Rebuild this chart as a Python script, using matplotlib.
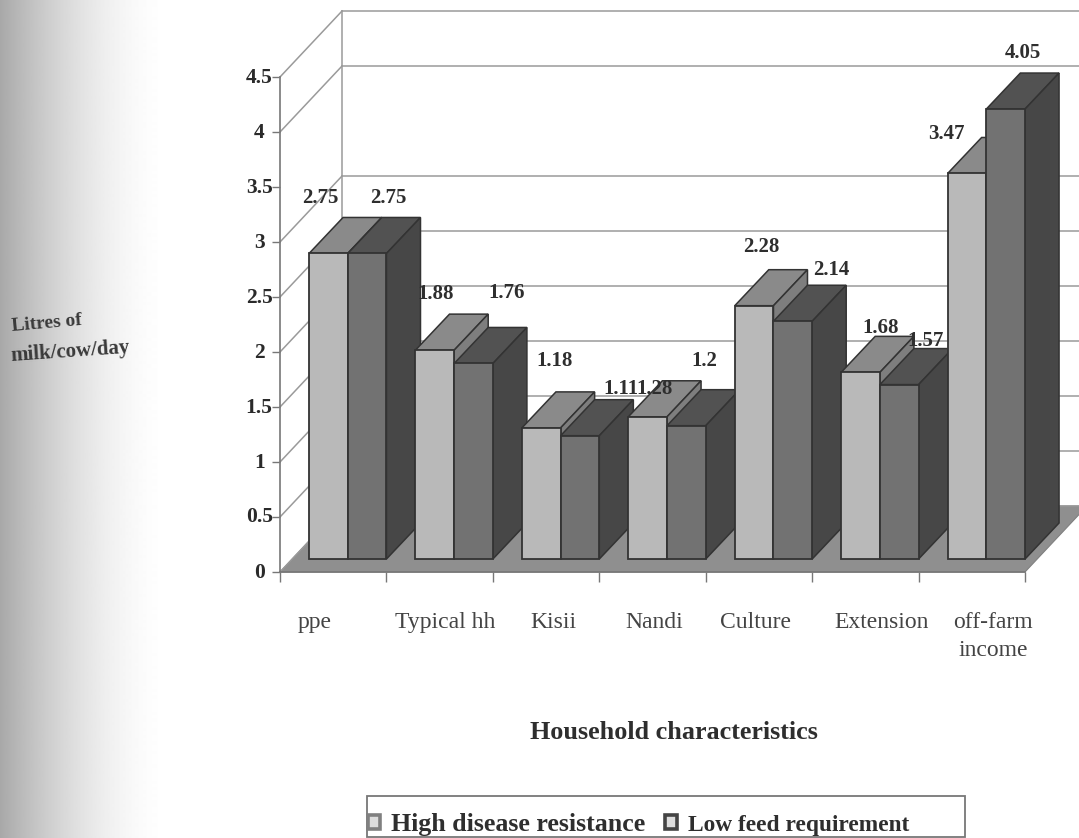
import numpy as np
import matplotlib
matplotlib.use("Agg")
import matplotlib.pyplot as plt
from matplotlib.patches import Polygon, Patch, Rectangle
from matplotlib.transforms import ScaledTranslation

categories = ["ppe", "Typical hh", "Kisii", "Nandi", "Culture", "Extension", "off-farm\nincome"]
high_disease_resistance = [2.75, 1.88, 1.18, 1.28, 2.28, 1.68, 3.47]
low_feed_requirement = [2.75, 1.76, 1.11, 1.2, 2.14, 1.57, 4.05]
y_ticks = [0, 0.5, 1, 1.5, 2, 2.5, 3, 3.5, 4, 4.5]
y_tick_labels = ["0", "0.5", "1", "1.5", "2", "2.5", "3", "3.5", "4", "4.5"]
# the 3.5 gridline does not show in the scanned reference
wall_levels = [0, 0.5, 1, 1.5, 2, 2.5, 3, 4, 4.5]

# label placement (pixels from the top-front centre of each bar)
off_s1 = [(-8, 55), (1, 56), (13, 67), (7, 28), (7, 59), (20, 44), (-21, 39)]
off_s2 = [(21, 55), (33, 70), (41, 47), (18, 65), (38, 51), (26, 44), (17, 56)]
cat_label_x = [0.329, 1.551, 2.566, 3.515, 4.464, 5.648, 6.701]

W, H = 1079, 838
SERIF = "Liberation Serif"
plt.rcParams["font.family"] = SERIF
fig = plt.figure(figsize=(W / 100, H / 100), dpi=100, facecolor="white")

# scanned-page shading at the left edge
bg = fig.add_axes([0, 0, 1, 1], zorder=-1)
xs = np.arange(W)
shade = 1 - 0.34 * np.clip(1 - xs / 170, 0, 1) ** 1.7
bg.imshow(np.tile(shade, (H, 1)), aspect="auto", cmap="gray", vmin=0, vmax=1)
bg.axis("off")

ax = fig.add_axes([280 / W, 1 - 572 / H, 745 / W, 495 / H], facecolor="none")
ax.set_xlim(0, 7)
ax.set_ylim(0, 4.5)

WALL_DX, WALL_DY = 62 / 106.4, 66 / 110
GRID = "#9a9a9a"
EDGE = "#333333"
ax.add_patch(Polygon([(0, 0), (WALL_DX, WALL_DY), (7 + WALL_DX, WALL_DY), (7, 0)],
                     closed=True, fc="#8f8f8f", ec="#808080", lw=0.8, clip_on=False, zorder=1))
for v in wall_levels:
    ax.plot([0, WALL_DX], [v, v + WALL_DY], color=GRID, lw=1.1, clip_on=False, zorder=2)
    ax.plot([WALL_DX, 7 + WALL_DX], [v + WALL_DY, v + WALL_DY], color=GRID, lw=1.1, clip_on=False, zorder=2)
ax.plot([WALL_DX, WALL_DX], [WALL_DY, 4.5 + WALL_DY], color=GRID, lw=1.1, clip_on=False, zorder=2)

BASE = 13 / 110
SCALE = 1.01
BW = 38.7 / 106.4
START = 0.273
DX, DY = 34 / 106.4, 36 / 110
styles = [("#b9b9b9", "#8a8a8a", "#7e7e7e"), ("#727272", "#525252", "#474747")]
series = [high_disease_resistance, low_feed_requirement]
offsets = [off_s1, off_s2]

for s, vals in enumerate(series):
    front, top, side = styles[s]
    for i, v in enumerate(vals):
        z = 5 + i * 3 + s
        x0 = i + START + s * BW
        x1 = x0 + BW
        yt = BASE + v * SCALE
        ax.bar(x0, v * SCALE, BW, bottom=BASE, align="edge", color=front, edgecolor=EDGE,
               linewidth=1.3, clip_on=False, zorder=z + 0.2)
        ax.add_patch(Polygon([(x0, yt), (x0 + DX, yt + DY), (x1 + DX, yt + DY), (x1, yt)],
                             closed=True, fc=top, ec=EDGE, lw=1.1, clip_on=False, zorder=z))
        ax.add_patch(Polygon([(x1, BASE), (x1 + DX, BASE + DY), (x1 + DX, yt + DY), (x1, yt)],
                             closed=True, fc=side, ec=EDGE, lw=1.1, clip_on=False, zorder=z))
        ox, oy = offsets[s][i]
        ax.annotate(f"{v:g}", xy=(x0 + BW / 2, yt), xytext=(ox, oy), textcoords="offset pixels",
                    ha="center", va="center", fontsize=15, fontweight="bold", color="#2e2e2e",
                    annotation_clip=False, zorder=60)

for sp in ("top", "right"):
    ax.spines[sp].set_visible(False)
for sp in ("left", "bottom"):
    ax.spines[sp].set_color("#777777")
    ax.spines[sp].set_linewidth(1.2)
    ax.spines[sp].set_zorder(4)

ax.set_yticks(y_ticks)
ax.set_yticklabels(y_tick_labels, fontsize=15.5, fontweight="bold", color="#2a2a2a", ha="center")
ax.tick_params(axis="y", length=6, width=1, color="#777777", pad=9)
up = ScaledTranslation(0, 2 / 100, fig.dpi_scale_trans)
for lab in ax.get_yticklabels():
    lab.set_transform(lab.get_transform() + up)

ax.set_xticks(range(8))
ax.set_xticklabels([])
ax.tick_params(axis="x", which="major", length=7.5, width=1, color="#777777")
ax.set_xticks(cat_label_x, minor=True)
ax.set_xticklabels(categories, minor=True, fontsize=17, color="#444444", va="top", linespacing=1.4)
ax.tick_params(axis="x", which="minor", length=0, pad=29)

fig.text(674 / W, 1 - 732 / H, "Household characteristics", ha="center", va="center",
         fontsize=18.8, fontweight="bold", color="#2e2e2e")
fig.text(47 / W, 1 - 323 / H, "Litres of", ha="center", va="center", fontsize=14,
         fontweight="bold", color="#3a3a3a", rotation=5)
fig.text(70 / W, 1 - 352 / H, "milk/cow/day", ha="center", va="center", fontsize=15,
         fontweight="bold", color="#3a3a3a", rotation=4)

fig.add_artist(Rectangle((367 / W, 1 / H), 598 / W, 41 / H, transform=fig.transFigure,
                         fc="white", ec="#777777", lw=1.3, zorder=1))
handles = [Patch(fc="#dddddd", ec="#808080", lw=2.6), Patch(fc="#dddddd", ec="#444444", lw=2.6)]
leg = fig.legend(handles, ["High disease resistance", "Low feed requirement"], ncol=2,
                 loc="center left", bbox_to_anchor=(368 / W, 1 - 824 / H),
                 borderaxespad=0, borderpad=0, fontsize=17.5, frameon=False,
                 handlelength=0.5, handleheight=0.5, handletextpad=0.45, columnspacing=0.8,
                 prop={"family": SERIF, "weight": "bold", "size": 17.5})
leg.set_zorder(2)
for t, size in zip(leg.get_texts(), (18.6, 16.8)):
    t.set_color("#2e2e2e")
    t.set_fontsize(size)

fig.savefig("out.png", dpi=100)
